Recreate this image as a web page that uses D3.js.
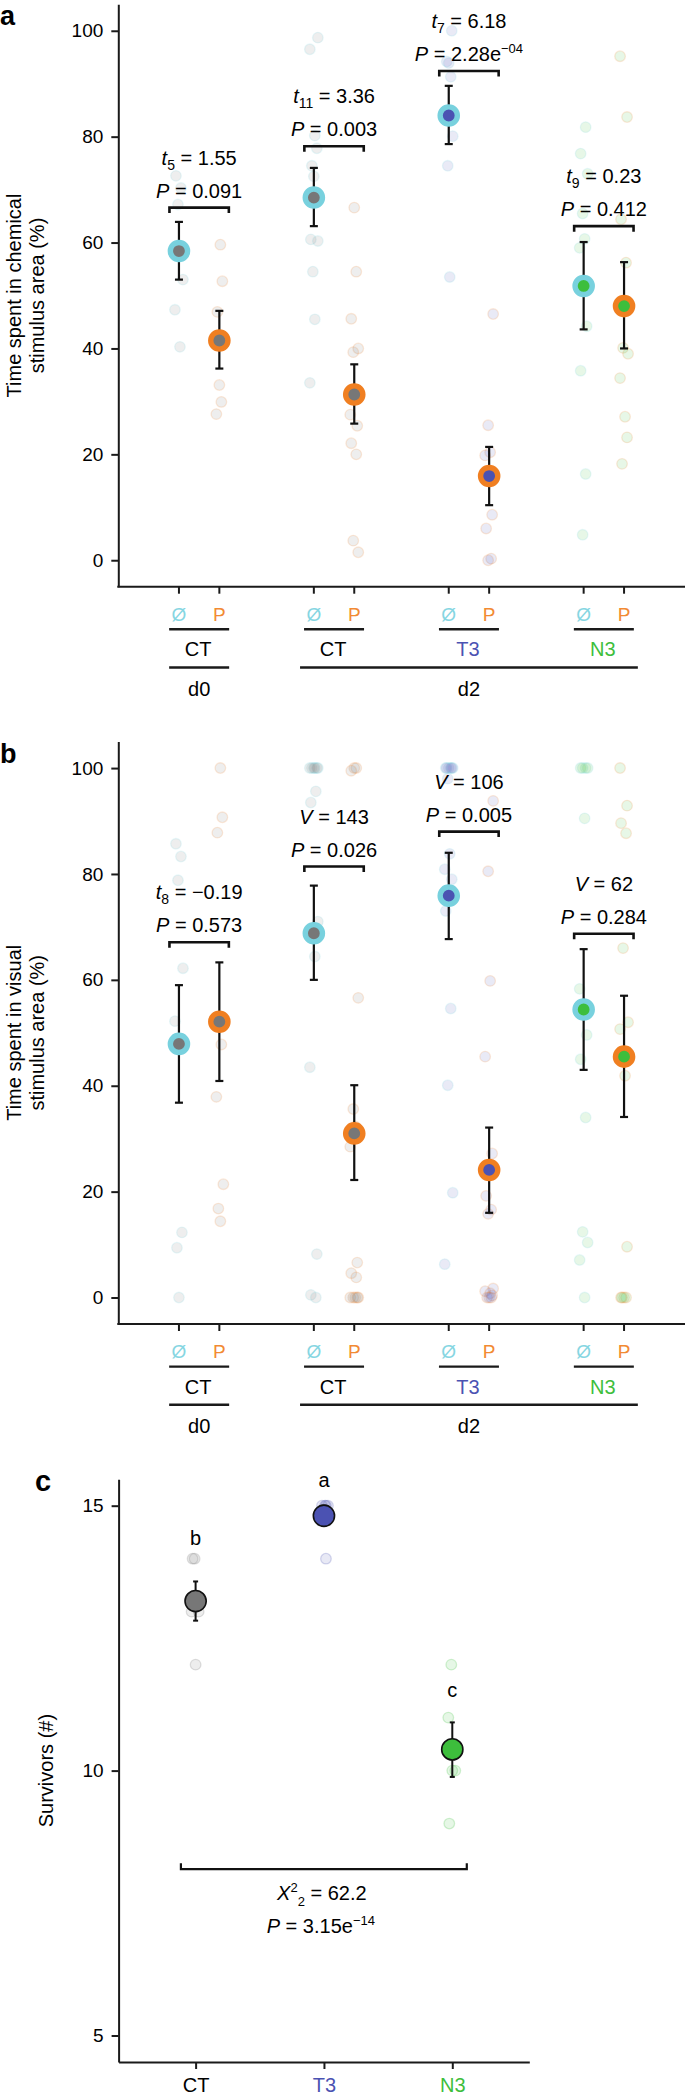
<!DOCTYPE html>
<html><head><meta charset="utf-8">
<script src="https://cdn.jsdelivr.net/npm/d3@7/dist/d3.min.js"></script>
<style>
body{margin:0;background:#fff;}
svg{display:block;font-family:"Liberation Sans",Arial,Helvetica,sans-serif;}
</style>
</head><body>
<svg id="chart" width="685" height="2095"></svg>
<script>
// ---------------- DATA ----------------
const groupNames = ["CT", "CT", "T3", "N3"];
const dayNames = ["d0", "d2"];
const treatNames = ["Ø", "P"];

// Panel a: time in chemical stimulus area (%) — raw values per group
const chemNone = [
  [72.6, 70.3, 67.2, 53.0, 47.3, 40.3],
  [98.7, 96.5, 80.2, 77.8, 74.5, 72.5, 68.0, 60.6, 60.3, 54.5, 45.5, 33.5],
  [100.0, 94.2, 93.9, 91.3, 84.5, 80.1, 74.5, 53.5],
  [81.8, 76.8, 73.0, 65.5, 60.7, 59.0, 44.2, 35.8, 16.3, 4.8]
];
const chemPred = [
  [59.6, 52.7, 46.9, 33.1, 29.9, 27.6],
  [66.6, 54.5, 45.6, 40.0, 39.3, 30.5, 27.5, 25.4, 22.1, 20.0, 3.7, 1.5],
  [46.5, 25.5, 20.4, 19.8, 8.6, 6.0, 0.3, 0.0],
  [95.2, 83.7, 64.4, 56.2, 40.1, 39.0, 34.4, 27.1, 23.2, 18.2]
];
const chemMeanNone = [58.4, 68.5, 84.0, 51.8];
const chemLoNone = [53.0, 63.1, 78.6, 43.6];
const chemHiNone = [63.9, 74.1, 89.6, 60.1];
const chemMeanPred = [41.5, 31.3, 15.9, 48.0];
const chemLoPred = [36.2, 25.8, 10.4, 40.0];
const chemHiPred = [47.1, 37.0, 21.4, 56.3];
const chemStatSym = ["t", "t", "t", "t"];
const chemStatDf = ["5", "11", "7", "9"];
const chemStatVal = ["1.55", "3.36", "6.18", "0.23"];
const chemPval = ["0.091", "0.003", "2.28e−04", "0.412"];
const chemBracket = [66.6, 78.2, 92.4, 63.1];

// Panel b: time in visual stimulus area (%)
const visNone = [
  [85.7, 83.3, 78.8, 62.2, 52.2, 47.2, 12.3, 9.4, 0.0],
  [100, 100, 100, 100, 100, 100, 95.6, 93.5, 71.0, 68.0, 64.4, 43.5, 8.2, 0.5, 0.0],
  [100, 100, 100, 100, 100, 100, 98.0, 83.8, 80.9, 79.0, 73.0, 54.6, 40.1, 19.8, 6.3],
  [100, 100, 100, 100, 90.5, 58.3, 49.6, 45.0, 34.0, 12.4, 10.4, 7.1, 0.0]
];
const visPred = [
  [100, 90.7, 87.8, 52.1, 47.8, 37.9, 21.4, 16.8, 14.4],
  [100, 100, 99.5, 56.6, 35.6, 32.3, 28.5, 6.6, 4.6, 3.8, 0, 0, 0, 0, 0],
  [93.8, 80.5, 59.8, 45.5, 27.2, 19.2, 16.6, 15.8, 1.7, 1.2, 0.8, 0.4, 0, 0, 0],
  [100, 92.9, 89.6, 87.7, 66.0, 52.0, 50.7, 41.9, 9.6, 0, 0, 0, 0]
];
const visMeanNone = [47.9, 68.8, 75.9, 54.4];
const visLoNone = [36.8, 60.0, 67.7, 43.0];
const visHiNone = [59.0, 77.8, 84.0, 65.8];
const visMeanPred = [52.1, 31.0, 24.1, 45.5];
const visLoPred = [40.9, 22.2, 16.0, 34.1];
const visHiPred = [63.3, 40.1, 32.1, 57.0];
const visStatSym = ["t", "V", "V", "V"];
const visStatDf = ["8", "", "", ""];
const visStatVal = ["−0.19", "143", "106", "62"];
const visPval = ["0.573", "0.026", "0.005", "0.284"];
const visBracket = [67.1, 81.4, 88.0, 68.7];

// Panel c: survivors (#)
const survGroups = ["CT", "T3", "N3"];
const survRaw = [
  [14, 14, 13, 13, 12],
  [15, 15, 15, 15, 14],
  [12, 11, 10, 10, 9]
];
const survMean = [13.2, 14.81, 10.40];
const survLo = [12.83, 14.62, 9.88];
const survHi = [13.57, 15.0, 10.91];
const survLetters = ["b", "a", "c"];
const survLetterLevel = [14.25, 15.35, 11.38];
const survBracketLevel = 8.14;
const survStatChi = "62.2";
const survStatDf = "2";
const survPval = "3.15e−14";

const pctTicks = [0, 20, 40, 60, 80, 100];
const survTicks = [5, 10, 15];

// ---------------- STYLE ----------------
const ringColor = {"Ø": "#78D1DE", "P": "#F07F21"};
const treatTextColor = {"Ø": "#86D6E2", "P": "#F28A33"};
const groupFill = ["#777777", "#777777", "#4B52B2", "#3DBE3C"];
const groupText = ["#000000", "#000000", "#4B52B2", "#3DBE3C"];
const survFill = ["#777777", "#4B52B2", "#3DBE3C"];
const survText = ["#000000", "#4B52B2", "#3DBE3C"];
const jitterPx = [-3, 2, -1, 4, -4, 1, 3, -2, 0, 2, -3, 4, -1, 1, -4, 3];
const AXIS_X = 118.3;

const svg = d3.select("#chart");

function richText(parent, x, yb, parts, size) {
  const t = parent.append("text")
    .attr("x", x).attr("y", yb)
    .attr("text-anchor", "middle")
    .attr("font-size", size || 20)
    .attr("fill", "#000");
  parts.forEach(p => {
    const s = t.append("tspan").text(p.t);
    if (p.i) s.attr("font-style", "italic");
    if (p.s) s.attr("font-size", p.s);
    if (p.dy) s.attr("dy", p.dy);
  });
  return t;
}

function pParts(pv) {
  const parts = [{t: "P", i: 1}];
  const idx = pv.indexOf("e");
  if (idx < 0) { parts.push({t: " = " + pv}); }
  else {
    parts.push({t: " = " + pv.slice(0, idx + 1)});
    parts.push({t: pv.slice(idx + 1), s: 13, dy: -8});
  }
  return parts;
}

function drawPanel(cfg) {
  const g = svg.append("g");
  const top = cfg.top;
  const y = d3.scaleLinear().domain([-5, 105]).range([top + 582.4, top]);
  const xg = d3.scaleBand().domain(d3.range(4)).range([131.7, 671.3]);
  const xt = d3.scalePoint().domain(treatNames).range([-20.2, 20.2]);
  const cx = (gi, tr) => xg(gi) + xg.bandwidth() / 2 + xt(tr);
  const gc = gi => xg(gi) + xg.bandwidth() / 2;
  const base = y(-5);

  // panel letter
  g.append("text").attr("x", 0).attr("y", top + 21).attr("font-size", 27)
    .attr("font-weight", "bold").text(cfg.letter);

  // y axis
  const ya = g.append("g").attr("transform", `translate(${AXIS_X},0)`)
    .call(d3.axisLeft(y).tickValues(pctTicks).tickSize(7).tickSizeOuter(0).tickPadding(8));
  ya.select(".domain").attr("stroke", "#1a1a1a").attr("stroke-width", 2);
  ya.selectAll(".tick line").attr("stroke", "#1a1a1a").attr("stroke-width", 2);
  ya.selectAll(".tick text").attr("font-size", 19).attr("fill", "#000")
    .attr("font-family", '"Liberation Sans",Arial,sans-serif');

  // y title
  const tcy = (top + base) / 2;
  cfg.title.forEach((line, i) => {
    g.append("text").attr("transform", `translate(${21 + i * 23},${tcy}) rotate(-90)`)
      .attr("text-anchor", "middle").attr("font-size", 20).text(line);
  });

  // x axis line + ticks
  g.append("line").attr("x1", AXIS_X - 1).attr("x2", 685).attr("y1", base).attr("y2", base)
    .attr("stroke", "#1a1a1a").attr("stroke-width", 2);
  const tickPos = [];
  d3.range(4).forEach(gi => treatNames.forEach(tr => tickPos.push({gi, tr})));
  g.selectAll(".xt").data(tickPos).join("line")
    .attr("x1", d => cx(d.gi, d.tr)).attr("x2", d => cx(d.gi, d.tr))
    .attr("y1", base).attr("y2", base + 7).attr("stroke", "#1a1a1a").attr("stroke-width", 2);
  g.selectAll(".xl").data(tickPos).join("text")
    .attr("x", d => cx(d.gi, d.tr)).attr("y", base + 33.8).attr("text-anchor", "middle")
    .attr("font-size", 19).attr("fill", d => treatTextColor[d.tr]).text(d => d.tr);
  // group underlines + labels
  d3.range(4).forEach(gi => {
    g.append("line").attr("x1", gc(gi) - 30).attr("x2", gc(gi) + 30)
      .attr("y1", base + 42.6).attr("y2", base + 42.6).attr("stroke", "#1a1a1a").attr("stroke-width", 2.4);
    g.append("text").attr("x", gc(gi) - 1).attr("y", base + 69.5).attr("text-anchor", "middle")
      .attr("font-size", 20).attr("fill", groupText[gi]).text(groupNames[gi]);
  });
  // day underlines + labels
  const days = [{name: dayNames[0], a: gc(0) - 30, b: gc(0) + 30},
                {name: dayNames[1], a: gc(1) - 34, b: gc(3) + 34}];
  days.forEach(d => {
    g.append("line").attr("x1", d.a).attr("x2", d.b).attr("y1", base + 80.8).attr("y2", base + 80.8)
      .attr("stroke", "#1a1a1a").attr("stroke-width", 2.4);
    g.append("text").attr("x", (d.a + d.b) / 2).attr("y", base + 109).attr("text-anchor", "middle")
      .attr("font-size", 20).text(d.name);
  });

  // raw points
  const pts = [];
  d3.range(4).forEach(gi => {
    cfg.none[gi].forEach((v, k) => pts.push({gi, tr: "Ø", v, k}));
    cfg.pred[gi].forEach((v, k) => pts.push({gi, tr: "P", v, k}));
  });
  g.selectAll(".raw").data(pts).join("circle")
    .attr("cx", d => cx(d.gi, d.tr) + jitterPx[(d.k + d.gi * 3 + (d.tr === "P" ? 5 : 0)) % jitterPx.length])
    .attr("cy", d => y(d.v)).attr("r", 5.3)
    .attr("fill", d => groupFill[d.gi]).attr("fill-opacity", 0.12)
    .attr("stroke", d => ringColor[d.tr]).attr("stroke-opacity", 0.16).attr("stroke-width", 1.3);

  // summary
  const sums = [];
  d3.range(4).forEach(gi => {
    sums.push({gi, tr: "Ø", m: cfg.meanN[gi], lo: cfg.loN[gi], hi: cfg.hiN[gi]});
    sums.push({gi, tr: "P", m: cfg.meanP[gi], lo: cfg.loP[gi], hi: cfg.hiP[gi]});
  });
  const eb = g.selectAll(".eb").data(sums).join("g");
  eb.append("line").attr("x1", d => cx(d.gi, d.tr)).attr("x2", d => cx(d.gi, d.tr))
    .attr("y1", d => y(d.lo)).attr("y2", d => y(d.hi)).attr("stroke", "#111").attr("stroke-width", 2.2);
  ["lo", "hi"].forEach(key => {
    eb.append("line").attr("x1", d => cx(d.gi, d.tr) - 4).attr("x2", d => cx(d.gi, d.tr) + 4)
      .attr("y1", d => y(d[key])).attr("y2", d => y(d[key])).attr("stroke", "#111").attr("stroke-width", 2.2);
  });
  g.selectAll(".mean").data(sums).join("circle")
    .attr("cx", d => cx(d.gi, d.tr)).attr("cy", d => y(d.m)).attr("r", 8.6)
    .attr("fill", d => groupFill[d.gi]).attr("stroke", d => ringColor[d.tr]).attr("stroke-width", 5.4);

  // brackets + stats
  d3.range(4).forEach(gi => {
    const by = y(cfg.bracket[gi]);
    const a = cx(gi, "Ø") - 9.5, b = cx(gi, "P") + 9.5;
    g.append("path").attr("d", `M${a},${by + 5.5}V${by}H${b}V${by + 5.5}`)
      .attr("fill", "none").attr("stroke", "#111").attr("stroke-width", 2.6);
    const sp = [{t: cfg.statSym[gi], i: 1}];
    if (cfg.statDf[gi]) { sp.push({t: cfg.statDf[gi], s: 14, dy: 5}); sp.push({t: " = " + cfg.statVal[gi], dy: -5}); }
    else sp.push({t: " = " + cfg.statVal[gi]});
    richText(g, gc(gi), by - 43, sp, 20);
    richText(g, gc(gi), by - 10, pParts(cfg.pval[gi]), 20);
  });
}

drawPanel({
  top: 4.3, letter: "a", title: ["Time spent in chemical", "stimulus area (%)"],
  none: chemNone, pred: chemPred,
  meanN: chemMeanNone, loN: chemLoNone, hiN: chemHiNone,
  meanP: chemMeanPred, loP: chemLoPred, hiP: chemHiPred,
  statSym: chemStatSym, statDf: chemStatDf, statVal: chemStatVal, pval: chemPval, bracket: chemBracket
});
drawPanel({
  top: 741.6, letter: "b", title: ["Time spent in visual", "stimulus area (%)"],
  none: visNone, pred: visPred,
  meanN: visMeanNone, loN: visLoNone, hiN: visHiNone,
  meanP: visMeanPred, loP: visLoPred, hiP: visHiPred,
  statSym: visStatSym, statDf: visStatDf, statVal: visStatVal, pval: visPval, bracket: visBracket
});

// ---------------- Panel c ----------------
(function () {
  const g = svg.append("g");
  const y = d3.scaleLinear().domain([4.5, 15.5]).range([2062, 1479.2]);
  const x = d3.scalePoint().domain(survGroups).range([118.6, 529.3]).padding(0.6);

  g.append("text").attr("x", 35).attr("y", 1491).attr("font-size", 29).attr("font-weight", "bold").text("c");

  const ya = g.append("g").attr("transform", "translate(118.6,0)")
    .call(d3.axisLeft(y).tickValues(survTicks).tickSize(7).tickSizeOuter(0).tickPadding(8));
  ya.select(".domain").attr("stroke", "#1a1a1a").attr("stroke-width", 2);
  ya.selectAll(".tick line").attr("stroke", "#1a1a1a").attr("stroke-width", 2);
  ya.selectAll(".tick text").attr("font-size", 19).attr("fill", "#000")
    .attr("font-family", '"Liberation Sans",Arial,sans-serif');

  const xa = g.append("g").attr("transform", "translate(0,2062)")
    .call(d3.axisBottom(x).tickSize(7).tickSizeOuter(0).tickPadding(9));
  xa.select(".domain").attr("stroke", "#1a1a1a").attr("stroke-width", 2);
  xa.selectAll(".tick line").attr("stroke", "#1a1a1a").attr("stroke-width", 2);
  xa.selectAll(".tick text").attr("font-size", 20)
    .attr("font-family", '"Liberation Sans",Arial,sans-serif')
    .attr("fill", (d, i) => survText[i]);

  g.append("text").attr("transform", `translate(53,${(1479.2 + 2062) / 2}) rotate(-90)`)
    .attr("text-anchor", "middle").attr("font-size", 20).text("Survivors (#)");

  const pts = [];
  survGroups.forEach((s, gi) => survRaw[gi].forEach((v, k) => pts.push({gi, s, v, k})));
  g.selectAll(".raw").data(pts).join("circle")
    .attr("cx", d => x(d.s) + jitterPx[(d.k * 2 + d.gi) % jitterPx.length])
    .attr("cy", d => y(d.v)).attr("r", 5.3)
    .attr("fill", d => survFill[d.gi]).attr("fill-opacity", 0.13)
    .attr("stroke", d => survFill[d.gi]).attr("stroke-opacity", 0.22).attr("stroke-width", 1.3);

  survGroups.forEach((s, gi) => {
    const cxv = x(s);
    g.append("line").attr("x1", cxv).attr("x2", cxv).attr("y1", y(survLo[gi])).attr("y2", y(survHi[gi]))
      .attr("stroke", "#111").attr("stroke-width", 2);
    [survLo[gi], survHi[gi]].forEach(v => g.append("line").attr("x1", cxv - 2.5).attr("x2", cxv + 2.5)
      .attr("y1", y(v)).attr("y2", y(v)).attr("stroke", "#111").attr("stroke-width", 2));
    g.append("circle").attr("cx", cxv).attr("cy", y(survMean[gi])).attr("r", 10.6)
      .attr("fill", survFill[gi]).attr("stroke", "#111").attr("stroke-width", 1.6);
    g.append("text").attr("x", cxv).attr("y", y(survLetterLevel[gi])).attr("text-anchor", "middle")
      .attr("font-size", 20).text(survLetters[gi]);
  });

  const by = y(survBracketLevel);
  const a = x(survGroups[0]) - 14.7, b = x(survGroups[2]) + 14.5;
  g.append("path").attr("d", `M${a},${by - 6}V${by}H${b}V${by - 6}`)
    .attr("fill", "none").attr("stroke", "#111").attr("stroke-width", 2.2);
  const mid = (a + b) / 2;
  richText(g, mid - 2, by + 31, [
    {t: "X", i: 1}, {t: "2", s: 13, dy: -8}, {t: survStatDf, s: 13, dy: 14}, {t: " = " + survStatChi, dy: -6}
  ], 20);
  richText(g, mid - 3, by + 64, pParts(survPval), 20);
})();
</script>
</body></html>
